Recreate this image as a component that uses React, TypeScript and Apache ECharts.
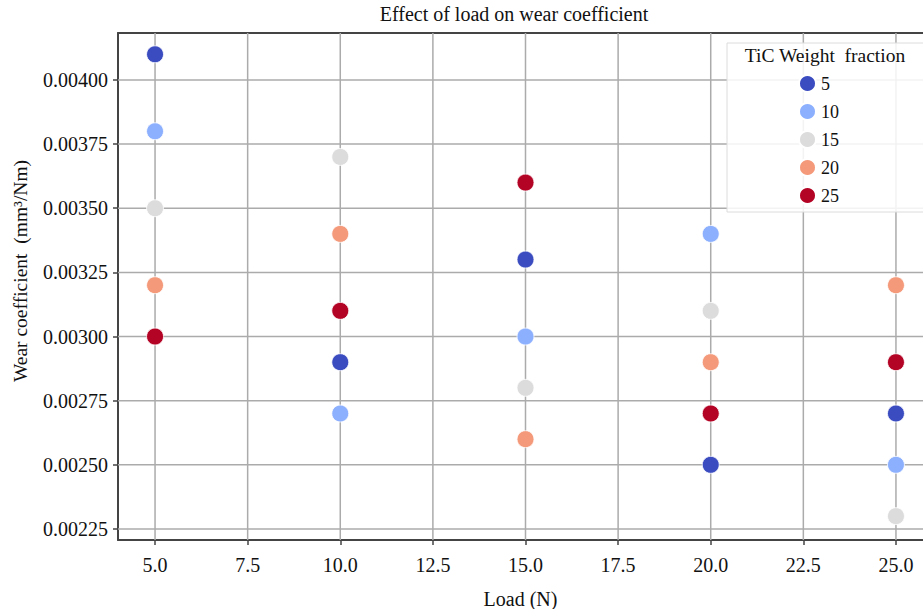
import React, { useEffect, useRef } from "react";
import * as echarts from "echarts";

const loads = [5, 10, 15, 20, 25];
const fractions = ["5", "10", "15", "20", "25"];
const colors = ["#3b4cc0", "#8db0fe", "#dddcdc", "#f49a7b", "#b40426"];
// wear coefficient per TiC fraction, indexed by load
const wear5 = [0.0041, 0.0029, 0.0033, 0.0025, 0.0027];
const wear10 = [0.0038, 0.0027, 0.003, 0.0034, 0.0025];
const wear15 = [0.0035, 0.0037, 0.0028, 0.0031, 0.0023];
const wear20 = [0.0032, 0.0034, 0.0026, 0.0029, 0.0032];
const wear25 = [0.003, 0.0031, 0.0036, 0.0027, 0.0029];
const wearSets = [wear5, wear10, wear15, wear20, wear25];
const xTicks = [5, 7.5, 10, 12.5, 15, 17.5, 20, 22.5, 25];
const yTicks = [0.00225, 0.0025, 0.00275, 0.003, 0.00325, 0.0035, 0.00375, 0.004];

const X_MIN = 4;
const X_MAX = 25.73;
const Y_MIN = 0.002207;
const Y_MAX = 0.004183;

const FONT = "Liberation Serif";
const TXT = "#111111";
const SPINE = "#444444";
const GRID = "#ababab";

export default function App() {
  const ref = useRef<HTMLDivElement>(null);
  useEffect(() => {
    if (!ref.current) return;
    const chart = echarts.init(ref.current, undefined, { renderer: "svg" });
    const gridLineSeries = [
      ...xTicks.map((v) => ({
        type: "line",
        silent: true,
        symbol: "none",
        z: 1,
        lineStyle: { color: GRID, width: 1.5 },
        data: [
          [v, Y_MIN],
          [v, Y_MAX],
        ],
      })),
      ...yTicks.map((v) => ({
        type: "line",
        silent: true,
        symbol: "none",
        z: 1,
        lineStyle: { color: GRID, width: 1.5 },
        data: [
          [X_MIN, v],
          [X_MAX, v],
        ],
      })),
    ];
    chart.setOption({
      animation: false,
      backgroundColor: "#ffffff",
      textStyle: { fontFamily: FONT, color: TXT },
      title: {
        text: "Effect of load on wear coefficient",
        left: 514,
        textAlign: "center",
        top: 4,
        padding: 0,
        textStyle: { fontFamily: FONT, fontSize: 20, fontWeight: "normal", color: TXT },
      },
      grid: {
        left: 118,
        right: 0,
        top: 33,
        bottom: 69,
        containLabel: false,
        outerBoundsMode: "none",
      },
      legend: {
        orient: "vertical",
        left: 727,
        top: 43,
        itemWidth: 17,
        itemHeight: 17,
        itemGap: 9,
        padding: [31, 96, 7, 71],
        backgroundColor: "rgba(255,255,255,0.85)",
        borderColor: "#dcdcdc",
        borderWidth: 1,
        z: 20,
        textStyle: { fontFamily: FONT, fontSize: 18, color: TXT },
        data: fractions.map((f) => ({ name: f, icon: "circle" })),
      },
      graphic: [
        {
          type: "text",
          x: 825,
          y: 55,
          z: 100,
          style: {
            text: "TiC Weight  fraction",
            font: `19.5px ${FONT}`,
            fill: TXT,
            textAlign: "center",
            textVerticalAlign: "middle",
          },
        },
        {
          type: "text",
          x: 20,
          y: 271,
          rotation: Math.PI / 2,
          z: 100,
          style: {
            text: "Wear coefficient  (mm³/Nm)",
            font: `19.5px ${FONT}`,
            fill: TXT,
            textAlign: "center",
            textVerticalAlign: "middle",
          },
        },
      ],
      xAxis: [
        {
          type: "value",
          min: X_MIN,
          max: X_MAX,
          name: "Load (N)",
          nameLocation: "middle",
          nameGap: 49,
          nameTextStyle: { fontFamily: FONT, fontSize: 20, color: TXT },
          axisLine: { show: true, onZero: false, lineStyle: { color: SPINE, width: 2 } },
          axisTick: { show: true, length: 5, customValues: xTicks, lineStyle: { color: SPINE, width: 1.5 } },
          axisLabel: {
            fontFamily: FONT,
            fontSize: 20,
            color: TXT,
            margin: 15,
            customValues: xTicks,
            formatter: (v: number) => v.toFixed(1),
          },
          splitLine: { show: false },
        },
        {
          type: "value",
          position: "top",
          min: X_MIN,
          max: X_MAX,
          axisLine: { show: true, onZero: false, lineStyle: { color: SPINE, width: 2 } },
          axisTick: { show: false },
          axisLabel: { show: false },
          splitLine: { show: false },
        },
      ],
      yAxis: {
        type: "value",
        min: Y_MIN,
        max: Y_MAX,
        axisLine: { show: true, onZero: false, lineStyle: { color: SPINE, width: 2 } },
        axisTick: { show: true, length: 5, customValues: yTicks, lineStyle: { color: SPINE, width: 1.5 } },
        axisLabel: {
          fontFamily: FONT,
          fontSize: 20,
          color: TXT,
          margin: 10,
          customValues: yTicks,
          formatter: (v: number) => v.toFixed(5),
        },
        splitLine: { show: false },
      },
      series: [
        ...gridLineSeries,
        ...fractions.map((f, i) => ({
          name: f,
          type: "scatter",
          symbolSize: 17,
          itemStyle: { color: colors[i], opacity: 1, borderColor: "#ffffff", borderWidth: 0.8 },
          data: loads.map((x, j) => [x, wearSets[i][j]]),
          z: 5,
        })),
      ],
    });
    return () => chart.dispose();
  }, []);
  return (
    <div
      ref={ref}
      style={{ position: "absolute", left: 0, top: 0, width: 923, height: 609 }}
    />
  );
}
